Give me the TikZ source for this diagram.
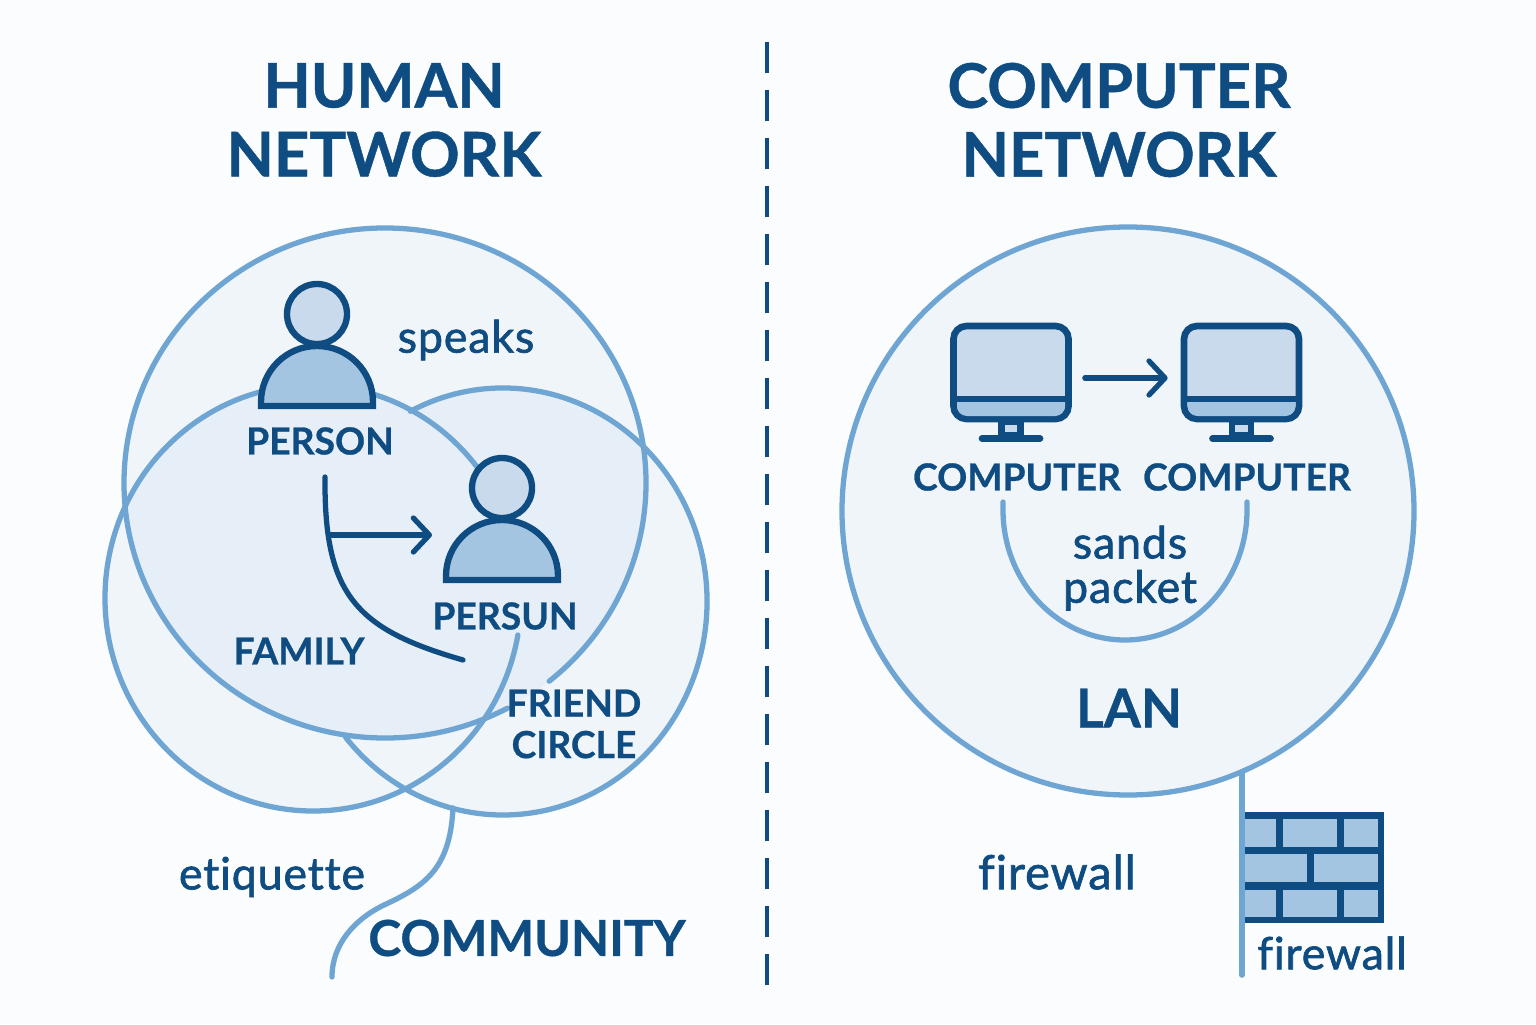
\documentclass[tikz,border=0pt]{standalone}
\usepackage{fontspec}
\setmainfont[BoldFeatures={RawFeature={embolden=0.7}}]{Lato}
\newfontfamily\medfont[Ligatures=NoCommon, LetterSpace=2, RawFeature={embolden=1.5}]{Lato}
\usetikzlibrary{arrows.meta}
\definecolor{navy}{HTML}{0F4C81}
\definecolor{ringblue}{HTML}{6FA5D2}
\definecolor{pagebg}{HTML}{FAFCFD}
\definecolor{discA}{HTML}{F0F5FA}
\definecolor{discB}{HTML}{E6EFF7}
\definecolor{palefill}{HTML}{C8DAEB}
\definecolor{darkfill}{HTML}{A4C5E1}
\tikzset{
  ring/.style={draw=ringblue, line width=1.5pt, line cap=round},
  iconline/.style={draw=navy, line width=1.8pt},
  flow/.style={draw=navy, line width=1.5pt, line cap=round},
  flowtip/.style={flow, -{Straight Barb[length=1.6mm, width=3.4mm, round]}},
  title/.style={text=navy, align=center, font=\bfseries\fontsize{17.5}{19.6}\selectfont},
  caplabel/.style={text=navy, align=center, font=\bfseries\fontsize{10.6}{11.8}\selectfont},
  biglabel/.style={text=navy, font=\bfseries\fontsize{14.1}{16}\selectfont},
  wordlabel/.style={text=navy, align=center, font=\medfont\fontsize{12.7}{12.6}\selectfont},
  person/.pic={
    \draw[iconline, fill=palefill] (0,0) circle [radius=.30];
    \draw[iconline, fill=darkfill] (-.56,-.92) -- (-.56,-.88) arc [start angle=180, end angle=0, radius=.56] -- (.56,-.92) -- cycle;
  },
  computer/.pic={
    % Pantalla
    \node[iconline, line width=1.9pt, fill=palefill, rounded corners=.13cm, minimum width=1.15cm, minimum height=.93cm, inner sep=0pt] (-body) at (0,0) {};
    \fill[darkfill] (-.54,-.265) -- (-.54,-.335) arc [start angle=180, end angle=270, radius=.10] -- (.44,-.435) arc [start angle=270, end angle=360, radius=.10] -- (.54,-.265) -- cycle;
    \draw[iconline] (-.575,-.265) -- (.575,-.265);
    % Pie
    \draw[iconline, fill=palefill] (-.095,-.495) rectangle (.095,-.63);
    \draw[iconline, line width=1.9pt, line cap=round] (-.29,-.66) -- (.29,-.66);
  },
}
\begin{document}
\begin{tikzpicture}
  \useasboundingbox (0,0) rectangle (15.36,10.24);
  \fill[pagebg] (0,0) rectangle (15.36,10.24);

  % Discos
  \fill[discA] (3.85,5.41) ellipse [x radius=2.61, y radius=2.55];
  \fill[discA] (3.13,4.26) ellipse [x radius=2.08, y radius=2.13];
  \fill[discA] (5.03,4.225) ellipse [x radius=2.04, y radius=2.135];
  \begin{scope}
    \clip (3.85,5.41) ellipse [x radius=2.61, y radius=2.55];
    \fill[discB] (3.13,4.26) ellipse [x radius=2.08, y radius=2.13];
    \fill[discB] (5.03,4.225) ellipse [x radius=2.04, y radius=2.135];
  \end{scope}
  \fill[discA] (11.28,5.13) ellipse [x radius=2.86, y radius=2.84];

  % Anillos
  \draw[ring] ([shift={(3.85,5.41)}]-51:2.61 and 2.55) arc [start angle=-51, end angle=298, x radius=2.61, y radius=2.55];
  \draw[ring] ([shift={(3.13,4.26)}]37:2.08 and 2.13) arc [start angle=37, end angle=350, x radius=2.08, y radius=2.13];
  \draw[ring] ([shift={(5.03,4.225)}]117:2.04 and 2.135) arc [start angle=117, end angle=-140.5, x radius=2.04, y radius=2.135];
  \draw[ring] (11.28,5.13) ellipse [x radius=2.86, y radius=2.84];

  % Divisor
  \draw[navy, line width=1.15pt, dash pattern=on .31cm off .17cm] (7.67,9.82) -- (7.67,.39);

  % Titulos
  \node[title] (humanTitle) at (3.84,9.04) {HUMAN\\NETWORK};
  \node[title] (computerTitle) at (11.19,9.04) {COMPUTER\\NETWORK};

  % Personas
  \pic (personA) at (3.17,7.10) {person};
  \pic (personB) at (5.02,5.36) {person};
  \node[caplabel] (personALabel) at (3.20,5.83) {PERSON};
  \node[caplabel] (personBLabel) at (5.05,4.08) {PERSUN};
  \node[wordlabel] (speaksLabel) at (4.66,6.84) {speaks};
  \node[caplabel] (familyLabel) at (2.99,3.73) {FAMILY};
  \node[caplabel] (friendLabel) at (5.74,3.00) {FRIEND\\CIRCLE};

  \coordinate (famStart) at (3.25,5.47);
  \coordinate (famEnd) at (4.63,3.64);
  \coordinate (famBranch) at (3.30,4.89);
  \coordinate (famTip) at (4.32,4.89);
  \draw[flow] (famStart) .. controls (3.24,4.30) and (3.55,3.95) .. (famEnd);
  \draw[flowtip] (famBranch) -- (famTip);

  % Comunidad
  \coordinate (commStart) at (4.53,2.16);
  \coordinate (commMid) at (3.84,1.19);
  \coordinate (commEnd) at (3.32,.47);
  \draw[ring] (commStart) .. controls (4.50,1.55) and (4.25,1.38) .. (commMid) .. controls (3.55,1.05) and (3.32,.80) .. (commEnd);
  \node[wordlabel] (etiquetteLabel) at (2.72,1.47) {etiquette};
  \node[biglabel] (communityLabel) at (5.27,.86) {COMMUNITY};

  % Computadoras
  \pic (compA) at (10.11,6.515) {computer};
  \pic (compB) at (12.415,6.515) {computer};
  \draw[flowtip, shorten <=.13cm, shorten >=.13cm] ([yshift=-.055cm]compA-body.east) -- ([yshift=-.055cm]compB-body.west);
  \node[caplabel] (compALabel) at (10.17,5.47) {COMPUTER};
  \node[caplabel] (compBLabel) at (12.47,5.47) {COMPUTER};

  \coordinate (packetStart) at (10.03,5.22);
  \coordinate (packetEnd) at (12.47,5.22);
  \draw[ring] (packetStart) -- (10.03,5.14) arc [start angle=180, end angle=360, x radius=1.22, y radius=1.30] -- (packetEnd);
  \node[wordlabel] (packetLabel) at (11.30,4.56) {sands\\packet};
  \node[biglabel, font=\bfseries\fontsize{15.2}{16}\selectfont] (lanLabel) at (11.29,3.16) {LAN};

  % Cortafuegos
  \fill[navy] (12.45,1.01) rectangle (13.84,2.12);
  \foreach \xa/\xb in {12.45/12.76, 12.83/13.37, 13.44/13.78} {
    \fill[darkfill] (\xa,1.07) rectangle (\xb,1.34);
    \fill[darkfill] (\xa,1.77) rectangle (\xb,2.05);
  }
  \foreach \xa/\xb in {12.45/13.07, 13.14/13.78} {
    \fill[darkfill] (\xa,1.42) rectangle (\xb,1.70);
  }
  \coordinate (wallTop) at (12.42,2.51);
  \coordinate (wallEnd) at (12.42,.49);
  \draw[ring, line width=1.6pt] (wallTop) -- (wallEnd);
  \node[wordlabel, font=\medfont\fontsize{13.4}{14}\selectfont] (firewallA) at (10.57,1.52) {firewall};
  \node[wordlabel] (firewallB) at (13.32,.71) {firewall};
\end{tikzpicture}
\end{document}
